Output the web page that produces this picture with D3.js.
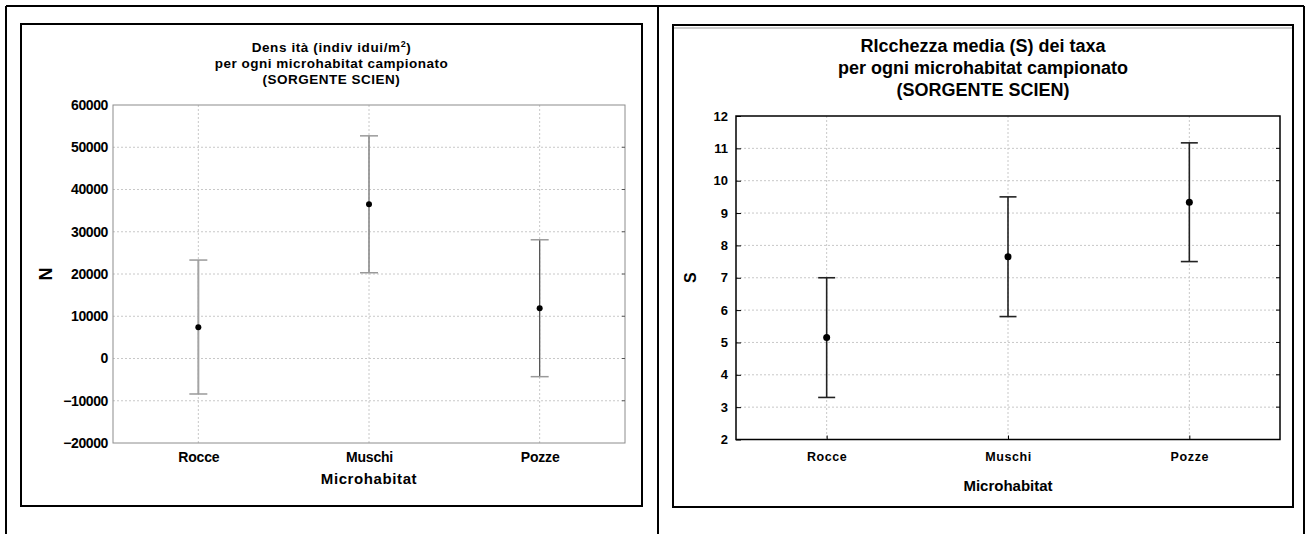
<!DOCTYPE html>
<html>
<head>
<meta charset="utf-8">
<script src="https://cdn.jsdelivr.net/npm/d3@7/dist/d3.min.js"></script>
<style>
  html, body { margin: 0; padding: 0; background: #fff; }
  svg { display: block; }
  .narrow { font-family: "Liberation Sans Narrow", "Arial Narrow", "Liberation Sans", Arial, sans-serif; font-weight: bold; }
  .wide { font-family: "Liberation Sans", Arial, sans-serif; font-weight: bold; }
</style>
</head>
<body>
<svg id="chart" width="1311" height="534"></svg>
<script>
// Microhabitat categories shared by both panels
const categories = ["Rocce", "Muschi", "Pozze"];

// Density (individuals / m²): mean and interval bounds
const densMean = [7400, 36500, 11900];
const densLow  = [-8400, 20300, -4300];
const densHigh = [23300, 52700, 28100];
const densTicks = [-20000, -10000, 0, 10000, 20000, 30000, 40000, 50000, 60000];
const densTitle = ["Dens ità (indiv idui/m", "per ogni microhabitat campionato", "(SORGENTE SCIEN)"];

// Mean taxa richness (S): mean and interval bounds
const richMean = [5.15, 7.65, 9.33];
const richLow  = [3.3, 5.8, 7.5];
const richHigh = [7.0, 9.5, 11.17];
const richTicks = [2, 3, 4, 5, 6, 7, 8, 9, 10, 11, 12];
const richTitle = ["RIcchezza media (S) dei taxa", "per ogni microhabitat campionato", "(SORGENTE SCIEN)"];

const svg = d3.select("#chart");

// Outer table lines
const table = svg.append("g").attr("stroke", "#000").attr("stroke-width", 2).attr("fill", "none");
table.append("line").attr("x1", 6).attr("x2", 1304).attr("y1", 6).attr("y2", 6);
table.append("line").attr("x1", 6).attr("x2", 6).attr("y1", 6).attr("y2", 534);
table.append("line").attr("x1", 658).attr("x2", 658).attr("y1", 6).attr("y2", 534);
table.append("line").attr("x1", 1304).attr("x2", 1304).attr("y1", 6).attr("y2", 534);

// ---------- Left panel: density ----------
(function () {
  const box = { x0: 21, y0: 24, x1: 642, y1: 506 };
  const plot = { x0: 113, x1: 625, y0: 105, y1: 443 };
  svg.append("rect").attr("x", box.x0).attr("y", box.y0)
    .attr("width", box.x1 - box.x0).attr("height", box.y1 - box.y0)
    .attr("fill", "none").attr("stroke", "#000").attr("stroke-width", 2);

  const x = d3.scalePoint().domain(categories).range([plot.x0, plot.x1]).padding(0.5);
  const y = d3.scaleLinear().domain([-20000, 60000]).range([plot.y1, plot.y0]);

  const g = svg.append("g");
  // grid
  g.selectAll(".hg").data(densTicks.slice(1, -1)).join("line")
    .attr("x1", plot.x0).attr("x2", plot.x1)
    .attr("y1", d => y(d)).attr("y2", d => y(d))
    .attr("stroke", "#c8c8c8").attr("stroke-dasharray", "2,2");
  g.selectAll(".vg").data(categories).join("line")
    .attr("x1", d => x(d)).attr("x2", d => x(d))
    .attr("y1", plot.y0).attr("y2", plot.y1)
    .attr("stroke", "#c8c8c8").attr("stroke-dasharray", "2,2");

  // frame
  g.append("rect").attr("x", plot.x0).attr("y", plot.y0)
    .attr("width", plot.x1 - plot.x0).attr("height", plot.y1 - plot.y0)
    .attr("fill", "none").attr("stroke", "#8c8c8c").attr("stroke-width", 1);

  // y axis labels
  const ya = d3.axisLeft(y).tickValues(densTicks).tickSize(0).tickPadding(5).tickFormat(d3.format("d"));
  const yg = g.append("g").attr("transform", `translate(${plot.x0},0)`).call(ya);
  yg.select(".domain").remove();
  yg.selectAll("text").attr("class", "narrow").attr("font-size", 14).attr("fill", "#000").attr("letter-spacing", "-0.4");
  // small marks on the right edge
  g.selectAll(".rt").data(densTicks.slice(1, -1)).join("line")
    .attr("x1", plot.x1 - 3).attr("x2", plot.x1)
    .attr("y1", d => y(d)).attr("y2", d => y(d)).attr("stroke", "#555");

  // x axis labels
  const xa = d3.axisBottom(x).tickSize(0).tickPadding(9);
  const xg = g.append("g").attr("transform", `translate(0,${plot.y1})`).call(xa);
  xg.select(".domain").remove();
  xg.selectAll("text").attr("class", "narrow").attr("font-size", 14).attr("fill", "#000").attr("letter-spacing", "-0.2");

  // axis titles
  g.append("text").attr("class", "narrow").attr("font-size", 15).attr("letter-spacing", "0.6")
    .attr("x", (plot.x0 + plot.x1) / 2).attr("y", 484).attr("text-anchor", "middle").text("Microhabitat");
  g.append("text").attr("class", "wide").attr("font-size", 18)
    .attr("transform", `translate(52,${(plot.y0 + plot.y1) / 2}) rotate(-90)`)
    .attr("text-anchor", "middle").text("N");

  // title, three lines
  const cx = (box.x0 + box.x1) / 2;
  const t1 = g.append("text").attr("class", "narrow").attr("font-size", 13.5).attr("letter-spacing", "0.6")
    .attr("x", cx).attr("y", 52).attr("text-anchor", "middle");
  t1.append("tspan").text(densTitle[0]);
  t1.append("tspan").attr("font-size", 9).attr("dy", -5).text("2");
  t1.append("tspan").attr("dy", 5).text(")");
  g.append("text").attr("class", "narrow").attr("font-size", 13.5).attr("letter-spacing", "0.5")
    .attr("x", cx).attr("y", 68).attr("text-anchor", "middle").text(densTitle[1]);
  g.append("text").attr("class", "narrow").attr("font-size", 13.5).attr("letter-spacing", "0.5")
    .attr("x", cx).attr("y", 84).attr("text-anchor", "middle").text(densTitle[2]);

  // error bars
  const lineCol = ["#a4a4a4", "#8a8a8a", "#555"];
  const lineW = [2, 1.6, 1.3];
  categories.forEach((c, i) => {
    const xc = x(c);
    g.append("line").attr("x1", xc).attr("x2", xc).attr("y1", y(densHigh[i])).attr("y2", y(densLow[i]))
      .attr("stroke", lineCol[i]).attr("stroke-width", lineW[i]);
    [densHigh[i], densLow[i]].forEach(v => {
      g.append("line").attr("x1", xc - 9).attr("x2", xc + 9).attr("y1", y(v)).attr("y2", y(v))
        .attr("stroke", "#9a9a9a").attr("stroke-width", 1.5);
    });
    g.append("circle").attr("cx", xc).attr("cy", y(densMean[i])).attr("r", 3).attr("fill", "#000");
  });
})();

// ---------- Right panel: richness ----------
(function () {
  const box = { x0: 673, y0: 25, x1: 1293, y1: 507 };
  const plot = { x0: 736, x1: 1280, y0: 116, y1: 439.5 };
  svg.append("rect").attr("x", box.x0).attr("y", box.y0)
    .attr("width", box.x1 - box.x0).attr("height", box.y1 - box.y0)
    .attr("fill", "none").attr("stroke", "#000").attr("stroke-width", 2);
  svg.append("line").attr("x1", box.x0 + 1).attr("x2", box.x1 - 1).attr("y1", box.y0 + 3).attr("y2", box.y0 + 3)
    .attr("stroke", "#999").attr("stroke-width", 1);

  const x = d3.scalePoint().domain(categories).range([plot.x0, plot.x1]).padding(0.5);
  const y = d3.scaleLinear().domain([2, 12]).range([plot.y1, plot.y0]);

  const g = svg.append("g");
  g.selectAll(".hg").data(richTicks.slice(1, -1)).join("line")
    .attr("x1", plot.x0).attr("x2", plot.x1)
    .attr("y1", d => y(d)).attr("y2", d => y(d))
    .attr("stroke", "#c8c8c8").attr("stroke-dasharray", "2,2");
  g.selectAll(".vg").data(categories).join("line")
    .attr("x1", d => x(d)).attr("x2", d => x(d))
    .attr("y1", plot.y0).attr("y2", plot.y1)
    .attr("stroke", "#c8c8c8").attr("stroke-dasharray", "2,2");

  g.append("rect").attr("x", plot.x0).attr("y", plot.y0)
    .attr("width", plot.x1 - plot.x0).attr("height", plot.y1 - plot.y0)
    .attr("fill", "none").attr("stroke", "#000").attr("stroke-width", 1.5);

  // y axis with inward ticks
  const ya = d3.axisLeft(y).tickValues(richTicks).tickSizeInner(-5).tickSizeOuter(0).tickPadding(8);
  const yg = g.append("g").attr("transform", `translate(${plot.x0},0)`).call(ya);
  yg.select(".domain").remove();
  yg.selectAll("line").attr("stroke", "#000");
  yg.selectAll("text").attr("class", "wide").attr("font-size", 13).attr("fill", "#000");
  g.selectAll(".rt").data(richTicks.slice(1, -1)).join("line")
    .attr("x1", plot.x1 - 4).attr("x2", plot.x1)
    .attr("y1", d => y(d)).attr("y2", d => y(d)).attr("stroke", "#000");

  const xa = d3.axisBottom(x).tickSizeInner(-4).tickSizeOuter(0).tickPadding(13);
  const xg = g.append("g").attr("transform", `translate(0,${plot.y1})`).call(xa);
  xg.select(".domain").remove();
  xg.selectAll("line").attr("stroke", "#000");
  xg.selectAll("text").attr("class", "wide").attr("font-size", 12.5).attr("fill", "#000").attr("letter-spacing", "0.6");

  g.append("text").attr("class", "wide").attr("font-size", 15)
    .attr("x", (plot.x0 + plot.x1) / 2).attr("y", 491).attr("text-anchor", "middle").text("Microhabitat");
  g.append("text").attr("class", "wide").attr("font-size", 16)
    .attr("transform", `translate(696,${(plot.y0 + plot.y1) / 2}) rotate(-90)`)
    .attr("text-anchor", "middle").text("S");

  const cx = (box.x0 + box.x1) / 2;
  richTitle.forEach((t, i) => {
    g.append("text").attr("class", "wide").attr("font-size", 18)
      .attr("x", cx).attr("y", 52 + i * 22).attr("text-anchor", "middle").text(t);
  });

  categories.forEach((c, i) => {
    const xc = x(c);
    g.append("line").attr("x1", xc).attr("x2", xc).attr("y1", y(richHigh[i])).attr("y2", y(richLow[i]))
      .attr("stroke", "#222").attr("stroke-width", 1.6);
    [richHigh[i], richLow[i]].forEach(v => {
      g.append("line").attr("x1", xc - 8.5).attr("x2", xc + 8.5).attr("y1", y(v)).attr("y2", y(v))
        .attr("stroke", "#222").attr("stroke-width", 1.6);
    });
    g.append("circle").attr("cx", xc).attr("cy", y(richMean[i])).attr("r", 3.5).attr("fill", "#000");
  });
})();
</script>
</body>
</html>
